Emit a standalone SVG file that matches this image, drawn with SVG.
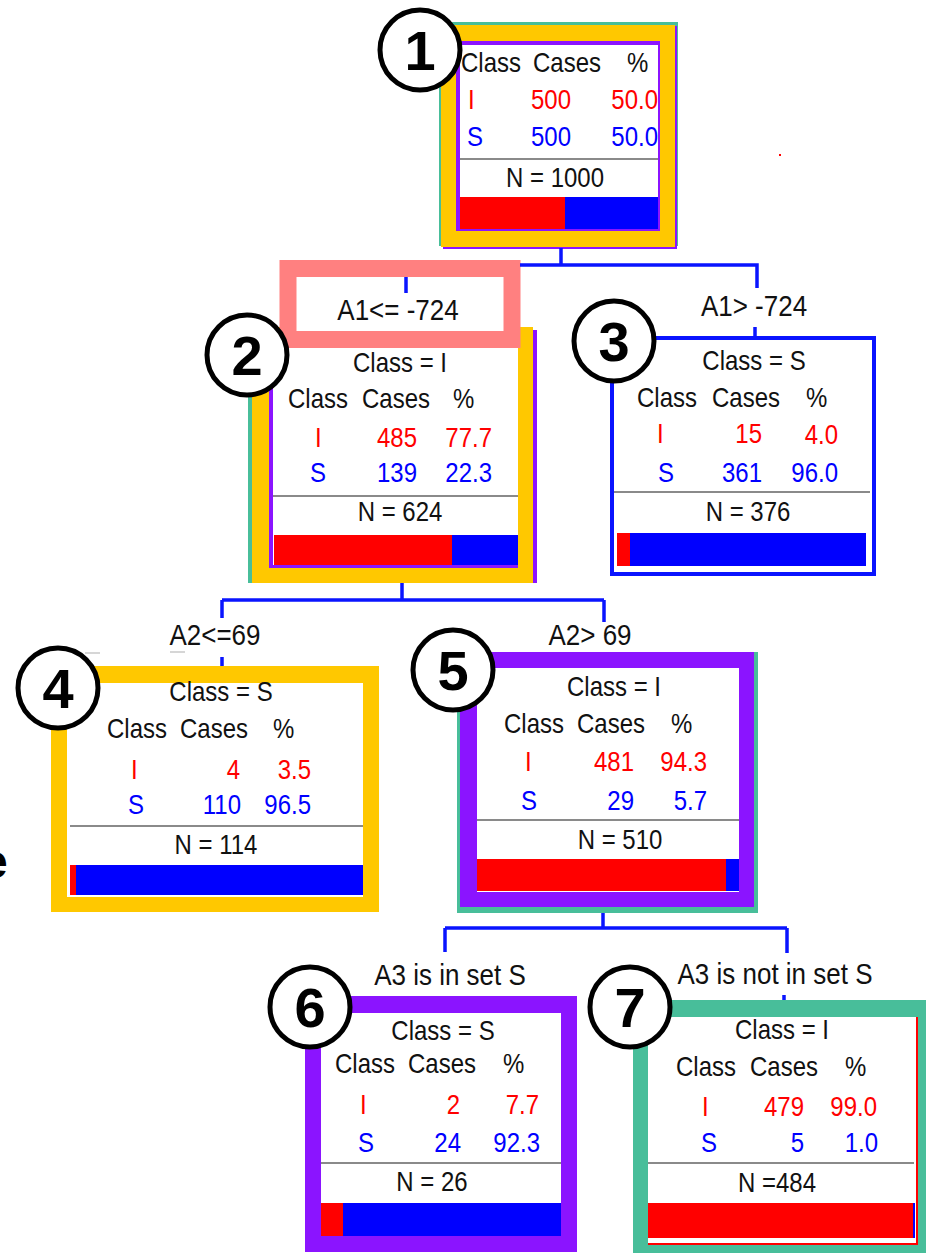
<svg xmlns="http://www.w3.org/2000/svg" width="928" height="1255" viewBox="0 0 928 1255">
  <defs>
    <style>
      text { font-family: "Liberation Sans", Arial, sans-serif; }
      .t { font-size: 24px; fill: #111; }
      .lab { font-size: 26px; fill: #111; }
      .r { font-size: 24px; fill: #ff0000; }
      .b { font-size: 24px; fill: #0000ff; }
      /* table type is drawn slightly tall */
      .t, .lab, .r, .b { transform-box: fill-box; transform-origin: 50% 100%; transform: scaleY(1.12); }
      .e { text-anchor: end; }
      .m { text-anchor: middle; }
      .sep { stroke: #8a8a8a; stroke-width: 2; }
      .num circle { fill: #ffffff; stroke: #000000; stroke-width: 5; }
      .num text { font-size: 56px; font-weight: bold; fill: #000; text-anchor: middle; }
      .conn { fill: none; stroke: #0a14ff; stroke-width: 3.5; }
      .teal { fill: #48be9a; }
      .gold { fill: #ffc800; }
      .violet { fill: #8b14ff; }
      .white { fill: #ffffff; }
    </style>
  </defs>

  <rect width="928" height="1255" fill="#ffffff"/>

  <!-- partial letter at the left edge -->
  <text x="-19" y="878" style="font-size:48px;font-weight:bold;fill:#000">e</text>
  <rect x="779" y="154" width="2" height="2" fill="#ff0000"/>

  <!-- Node 1 : root -->
  <g id="node1">
    <rect class="teal" x="439" y="22" width="239" height="224"/>
    <rect class="violet" x="443" y="26" width="234" height="223"/>
    <rect class="gold" x="441" y="25" width="234" height="222"/>
    <rect class="violet" x="456" y="41" width="204" height="190"/>
    <rect class="white" x="460" y="45" width="198" height="184"/>
    <text class="t" x="461" y="73">Class</text>
    <text class="t" x="533" y="73">Cases</text>
    <text class="t" x="627" y="73">%</text>
    <text class="r" x="468" y="110">I</text>
    <text class="r e" x="571" y="110">500</text>
    <text class="r e" x="658" y="110">50.0</text>
    <text class="b" x="467" y="147">S</text>
    <text class="b e" x="571" y="147">500</text>
    <text class="b e" x="658" y="147">50.0</text>
    <line class="sep" x1="460" y1="159" x2="658" y2="159"/>
    <text class="t m" x="555" y="188">N = 1000</text>
    <rect x="460" y="197" width="105" height="32" fill="#ff0000"/>
    <rect x="565" y="197" width="93" height="32" fill="#0000ff"/>
  </g>

  <!-- Node 2 : A1 <= -724 -->
  <g id="node2">
    <rect class="teal" x="248" y="327" width="285" height="256"/>
    <rect class="violet" x="253" y="330" width="284" height="253"/>
    <rect class="gold" x="252" y="327" width="281" height="256"/>
    <rect class="violet" x="269" y="340" width="249" height="228"/>
    <rect class="white" x="273" y="340" width="245" height="225"/>
    <text class="t m" x="400" y="373">Class = I</text>
    <text class="t" x="288" y="409">Class</text>
    <text class="t" x="362" y="409">Cases</text>
    <text class="t" x="453" y="409">%</text>
    <text class="r" x="315" y="448">I</text>
    <text class="r e" x="417" y="448">485</text>
    <text class="r e" x="492" y="448">77.7</text>
    <text class="b" x="310" y="483">S</text>
    <text class="b e" x="417" y="483">139</text>
    <text class="b e" x="492" y="483">22.3</text>
    <line class="sep" x1="273" y1="496" x2="518" y2="496"/>
    <text class="t m" x="400" y="522">N = 624</text>
    <rect x="274" y="535" width="178" height="30" fill="#ff0000"/>
    <rect x="452" y="535" width="66" height="30" fill="#0000ff"/>
  </g>

  <!-- split label of node 2, boxed -->
  <g id="label-a1-le">
    <rect x="288" y="268.5" width="224" height="71" fill="#ffffff" stroke="#ff8080" stroke-width="17"/>
    <text class="lab m" x="398" y="321">A1&lt;= -724</text>
  </g>

  <!-- Node 3 : A1 > -724 -->
  <g id="node3">
    <text class="lab m" x="754" y="317">A1&gt; -724</text>
    <rect x="612" y="338" width="262" height="236" fill="#ffffff" stroke="#0a14ff" stroke-width="4"/>
    <text class="t m" x="754" y="371">Class = S</text>
    <text class="t" x="637" y="408">Class</text>
    <text class="t" x="712" y="408">Cases</text>
    <text class="t" x="806" y="408">%</text>
    <text class="r" x="657" y="444">I</text>
    <text class="r e" x="762" y="444">15</text>
    <text class="r e" x="838" y="445">4.0</text>
    <text class="b" x="658" y="483">S</text>
    <text class="b e" x="762" y="483">361</text>
    <text class="b e" x="838" y="483">96.0</text>
    <line class="sep" x1="614" y1="492" x2="870" y2="492"/>
    <text class="t m" x="748" y="522">N = 376</text>
    <rect x="617" y="533" width="13" height="33" fill="#ff0000"/>
    <rect x="630" y="533" width="236" height="33" fill="#0000ff"/>
  </g>

  <!-- Node 4 : A2 <= 69 -->
  <g id="node4">
    <text class="lab m" x="215" y="646">A2&lt;=69</text>
    <line x1="85" y1="653" x2="100" y2="653" stroke="#c8c8c8" stroke-width="1.5"/>
    <line x1="170" y1="652" x2="185" y2="652" stroke="#c8c8c8" stroke-width="1.5"/>
    <rect class="gold" x="51" y="666" width="328" height="246"/>
    <rect class="white" x="67" y="683" width="296" height="214"/>
    <text class="t m" x="221" y="702">Class = S</text>
    <text class="t" x="107" y="739">Class</text>
    <text class="t" x="180" y="739">Cases</text>
    <text class="t" x="273" y="739">%</text>
    <text class="r" x="131" y="780">I</text>
    <text class="r e" x="240" y="780">4</text>
    <text class="r e" x="311" y="780">3.5</text>
    <text class="b" x="128" y="815">S</text>
    <text class="b e" x="241" y="815">110</text>
    <text class="b e" x="311" y="815">96.5</text>
    <line class="sep" x1="70" y1="826" x2="363" y2="826"/>
    <text class="t m" x="216" y="855">N = 114</text>
    <rect x="70" y="865" width="6" height="30" fill="#ff0000"/>
    <rect x="76" y="865" width="287" height="30" fill="#0000ff"/>
  </g>

  <!-- Node 5 : A2 > 69 -->
  <g id="node5">
    <text class="lab m" x="590" y="646">A2&gt; 69</text>
    <rect class="teal" x="457" y="652" width="301" height="261"/>
    <rect class="violet" x="460" y="652" width="294" height="255"/>
    <rect class="white" x="477" y="668" width="262" height="224"/>
    <text class="t m" x="614" y="697">Class = I</text>
    <text class="t" x="504" y="734">Class</text>
    <text class="t" x="577" y="734">Cases</text>
    <text class="t" x="671" y="734">%</text>
    <text class="r" x="525" y="772">I</text>
    <text class="r e" x="634" y="772">481</text>
    <text class="r e" x="707" y="772">94.3</text>
    <text class="b" x="521" y="811">S</text>
    <text class="b e" x="634" y="811">29</text>
    <text class="b e" x="707" y="811">5.7</text>
    <line class="sep" x1="477" y1="820" x2="739" y2="820"/>
    <text class="t m" x="620" y="850">N = 510</text>
    <rect x="477" y="859" width="249" height="32" fill="#ff0000"/>
    <rect x="726" y="859" width="13" height="32" fill="#0000ff"/>
  </g>

  <!-- Node 6 : A3 is in set S -->
  <g id="node6">
    <text class="lab m" x="450" y="986">A3 is in set S</text>
    <rect class="violet" x="305" y="996" width="272" height="256"/>
    <rect class="white" x="321" y="1013" width="240" height="223"/>
    <text class="t m" x="443" y="1041">Class = S</text>
    <text class="t" x="335" y="1074">Class</text>
    <text class="t" x="408" y="1074">Cases</text>
    <text class="t" x="503" y="1074">%</text>
    <text class="r" x="360" y="1115">I</text>
    <text class="r e" x="460" y="1115">2</text>
    <text class="r e" x="539" y="1115">7.7</text>
    <text class="b" x="358" y="1153">S</text>
    <text class="b e" x="461" y="1153">24</text>
    <text class="b e" x="540" y="1153">92.3</text>
    <line class="sep" x1="321" y1="1163" x2="561" y2="1163"/>
    <text class="t m" x="432" y="1192">N = 26</text>
    <rect x="321" y="1203" width="22" height="33" fill="#ff0000"/>
    <rect x="343" y="1203" width="218" height="33" fill="#0000ff"/>
  </g>

  <!-- Node 7 : A3 is not in set S -->
  <g id="node7">
    <text class="lab m" x="775" y="985">A3 is not in set S</text>
    <rect class="teal" x="633" y="1000" width="293" height="253"/>
    <rect x="648" y="1017" width="270" height="228" fill="#ff0000"/>
    <rect class="white" x="648" y="1017" width="268" height="226"/>
    <text class="t m" x="782" y="1040">Class = I</text>
    <text class="t" x="676" y="1077">Class</text>
    <text class="t" x="750" y="1077">Cases</text>
    <text class="t" x="845" y="1077">%</text>
    <text class="r" x="702" y="1117">I</text>
    <text class="r e" x="804" y="1117">479</text>
    <text class="r e" x="877" y="1117">99.0</text>
    <text class="b" x="701" y="1153">S</text>
    <text class="b e" x="804" y="1153">5</text>
    <text class="b e" x="878" y="1153">1.0</text>
    <line class="sep" x1="648" y1="1163" x2="914" y2="1163"/>
    <text class="t m" x="777" y="1193">N =484</text>
    <rect x="648" y="1203" width="265" height="35" fill="#ff0000"/>
    <rect x="913" y="1203" width="2" height="35" fill="#0000ff"/>
  </g>

  <!-- tree connectors -->
  <g id="connectors">
    <path class="conn" d="M561,248 V265 M520,265 H757 V288 M755,327 V336 M406,277 V293"/>
    <path class="conn" d="M402,583 V600 M222,600 H604 M222,600 V618 M222,657 V666 M604,600 V622"/>
    <path class="conn" d="M603,913 V928 M445,928 H787 M445,928 V952 M787,928 V953 M784,995 V1000"/>
  </g>

  <!-- numbered markers -->
  <g id="markers" class="num">
    <g id="marker1"><circle cx="420" cy="50" r="40"/><text x="420" y="70">1</text></g>
    <g id="marker2"><circle cx="247" cy="355" r="40"/><text x="247" y="375">2</text></g>
    <g id="marker3"><circle cx="614" cy="341" r="40"/><text x="614" y="361">3</text></g>
    <g id="marker4"><circle cx="58" cy="688" r="40"/><text x="58" y="708">4</text></g>
    <g id="marker5"><circle cx="453" cy="670" r="40"/><text x="453" y="690">5</text></g>
    <g id="marker6"><circle cx="310" cy="1007" r="40"/><text x="310" y="1027">6</text></g>
    <g id="marker7"><circle cx="630" cy="1007" r="40"/><text x="630" y="1027">7</text></g>
  </g>
</svg>
